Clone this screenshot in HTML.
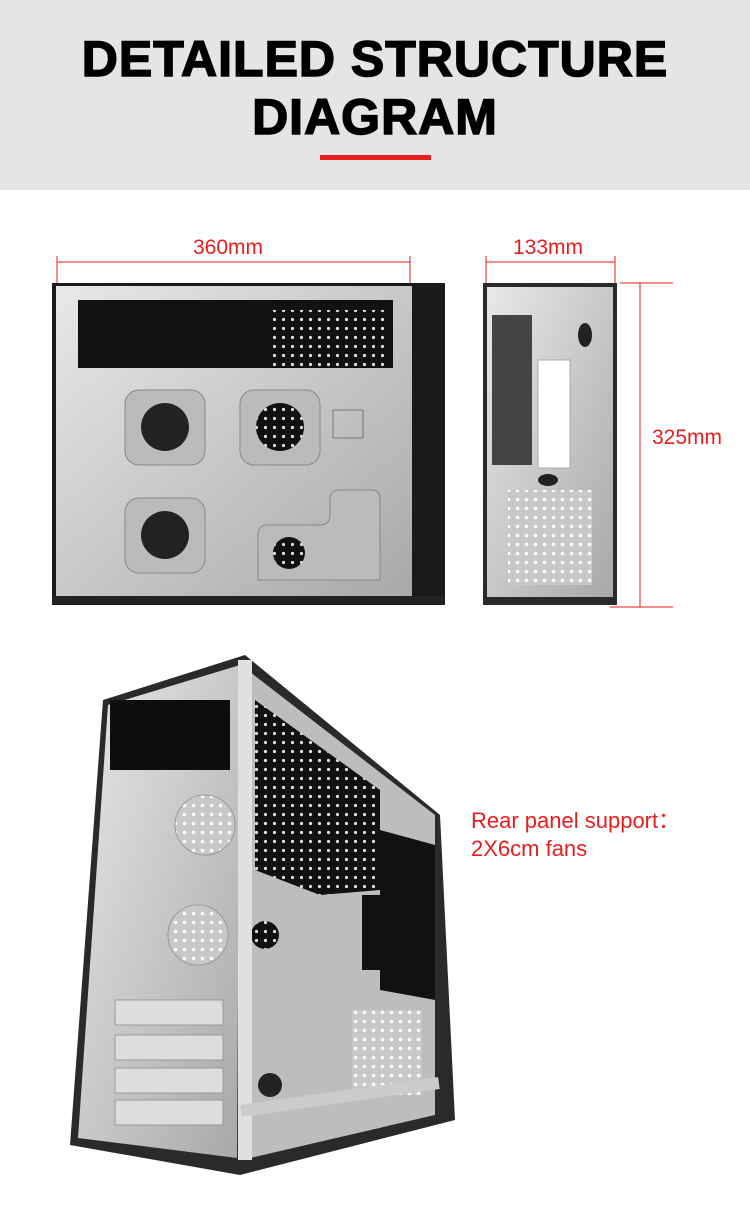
<!DOCTYPE html>
<html><head><meta charset="utf-8"><style>
body{margin:0;width:750px;height:1217px;background:#fff;position:relative;font-family:"Liberation Sans",sans-serif;overflow:hidden}
.hdr{position:absolute;left:0;top:0;width:750px;height:190px;background:#e5e5e5}
.t{position:absolute;left:0;width:750px;text-align:center;font-weight:bold;font-size:50px;color:#000;letter-spacing:1px;-webkit-text-stroke:1.5px #000}
.red{color:#e81d1d;position:absolute;font-size:21px}
</style></head><body>
<div class="hdr"></div>
<div class="t" style="top:30px">DETAILED STRUCTURE</div>
<div class="t" style="top:88px">DIAGRAM</div>
<div style="position:absolute;left:320px;top:155px;width:111px;height:5px;background:#e81d1d"></div>
<div class="red" style="left:193px;top:236px">360mm</div>
<div class="red" style="left:513px;top:236px">133mm</div>
<div class="red" style="left:652px;top:426px">325mm</div>
<div class="red" style="left:471px;top:803px;font-size:22px">Rear panel support：</div>
<div class="red" style="left:471px;top:836px;font-size:22px">2X6cm fans</div>
<svg width="750" height="1217" style="position:absolute;left:0;top:0">
<defs>
<linearGradient id="m" x1="0" y1="0" x2="1" y2="1"><stop offset="0" stop-color="#e8e8e8"/><stop offset="1" stop-color="#a8a8a8"/></linearGradient>
<pattern id="d" width="9" height="9" patternUnits="userSpaceOnUse"><rect width="9" height="9" fill="#111"/><circle cx="4.5" cy="4.5" r="1.6" fill="#ddd"/></pattern>
<pattern id="w" width="9" height="9" patternUnits="userSpaceOnUse"><rect width="9" height="9" fill="#c8c8c8"/><circle cx="4.5" cy="4.5" r="1.8" fill="#fff"/></pattern>
</defs>
<g stroke="#e81d1d" stroke-width="1" fill="none">
<line x1="57" y1="262" x2="410" y2="262"/><line x1="57" y1="256" x2="57" y2="290"/><line x1="410" y1="256" x2="410" y2="290"/>
<line x1="486" y1="262" x2="615" y2="262"/><line x1="486" y1="256" x2="486" y2="290"/><line x1="615" y1="256" x2="615" y2="290"/>
<line x1="640" y1="283" x2="640" y2="607"/><line x1="620" y1="283" x2="673" y2="283"/><line x1="610" y1="607" x2="673" y2="607"/>
</g>
<rect x="52" y="283" width="393" height="322" fill="#1a1a1a"/>
<rect x="56" y="286" width="356" height="314" fill="url(#m)"/>
<rect x="78" y="300" width="315" height="68" fill="#111"/>
<rect x="270" y="310" width="115" height="58" fill="url(#d)"/>
<rect x="125" y="390" width="80" height="75" rx="14" fill="#bbb" stroke="#888"/>
<circle cx="165" cy="427" r="24" fill="#222"/>
<rect x="240" y="390" width="80" height="75" rx="14" fill="#bbb" stroke="#888"/>
<circle cx="280" cy="427" r="24" fill="url(#d)"/>
<rect x="125" y="498" width="80" height="75" rx="14" fill="#bbb" stroke="#888"/>
<circle cx="165" cy="535" r="24" fill="#222"/>
<path d="M258 580 L258 535 Q258 525 268 525 L320 525 Q330 525 330 515 L330 500 Q330 490 340 490 L372 490 Q380 490 380 500 L380 580 Z" fill="#bbb" stroke="#888"/>
<circle cx="289" cy="553" r="16" fill="url(#d)"/>
<rect x="333" y="410" width="30" height="28" fill="none" stroke="#777"/>
<rect x="52" y="596" width="393" height="8" fill="#222"/>
<rect x="483" y="283" width="134" height="322" fill="#2a2a2a"/>
<rect x="487" y="287" width="126" height="310" fill="url(#m)"/>
<rect x="492" y="315" width="40" height="150" fill="#444"/>
<rect x="538" y="360" width="32" height="108" fill="#fff" stroke="#aaa"/>
<rect x="508" y="490" width="84" height="95" fill="url(#w)"/>
<ellipse cx="585" cy="335" rx="7" ry="12" fill="#222"/>
<ellipse cx="548" cy="480" rx="10" ry="6" fill="#222"/>
<polygon points="103,700 245,655 440,815 455,1120 240,1175 70,1145" fill="#2a2a2a"/>
<polygon points="108,705 240,665 237,1158 78,1138" fill="url(#m)"/>
<rect x="110" y="700" width="120" height="70" fill="#0d0d0d" transform="skew(0,-15) translate(0,30)"/>
<polygon points="250,672 435,815 435,1115 250,1158" fill="#bdbdbd"/>
<polygon points="255,700 380,790 380,890 320,895 255,870" fill="url(#d)"/>
<polygon points="380,830 435,845 435,1000 380,990" fill="#111"/>
<rect x="362" y="895" width="22" height="75" fill="#111"/>
<rect x="352" y="1010" width="70" height="85" fill="url(#w)"/>
<circle cx="265" cy="935" r="14" fill="url(#d)"/>
<circle cx="270" cy="1085" r="12" fill="#222"/>
<circle cx="205" cy="825" r="30" fill="url(#w)" stroke="#999"/>
<circle cx="198" cy="935" r="30" fill="url(#w)" stroke="#999"/>
<rect x="238" y="660" width="14" height="500" fill="#e0e0e0"/>
<g fill="#ddd" stroke="#999"><rect x="115" y="1000" width="108" height="25"/><rect x="115" y="1035" width="108" height="25"/><rect x="115" y="1068" width="108" height="25"/><rect x="115" y="1100" width="108" height="25"/></g>
<rect x="240" y="1105" width="200" height="12" fill="#ccc" transform="rotate(-8 240 1105)"/>
</svg>
</body></html>
